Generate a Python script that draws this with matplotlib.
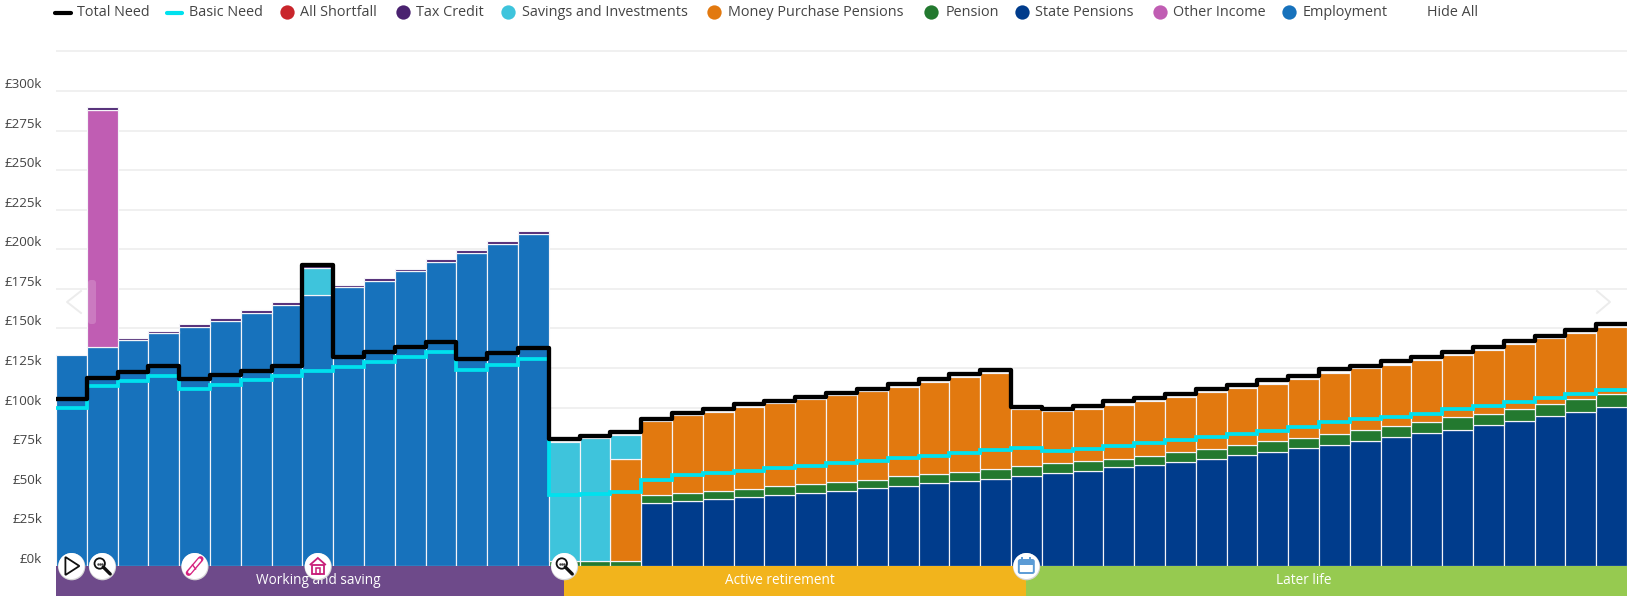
import matplotlib
matplotlib.use("Agg")
import numpy as np
import matplotlib.pyplot as plt
from matplotlib.patches import Rectangle, Circle, Polygon, FancyBboxPatch
from matplotlib.lines import Line2D

plt.rcParams['font.family'] = ['Open Sans', 'DejaVu Sans']

W, H = 1633, 601

employment = [133, 138, 142.5, 147, 151, 155, 160, 165, 171, 176, 180, 186, 192, 197.5, 203.5, 209.5]
other_income = [0, 150]
tax_credit = [0, 1.7, 1.6, 1.6, 1.7, 1.7, 1.7, 1.5, 1.2, 1.7, 1.8, 1.8, 1.8, 1.8, 1.8, 1.8]
savings = [0, 0, 0, 0, 0, 0, 0, 0, 17, 0, 0, 0, 0, 0, 0, 0, 75.3, 77.6, 15.3]
state_pensions = [40, 41, 42.3, 43.8, 44.8, 45.9, 47.2, 49, 50.5, 52.2, 53.5, 55.2, 56.6, 58.5,
                  60.3, 62.3, 64, 65.9, 67.6, 70.3, 72, 74.7, 76.4, 79, 81.2, 83.8, 86.1, 88.9,
                  91.4, 94.6, 97.1, 100.2]
pension = [3, 3, 3, 4.8, 4.9, 4.8, 5, 5.5, 5.6, 6, 5.5, 6.1, 6.1, 6, 6.2, 6.5, 6.5, 6.2,
           5.3, 5.6, 6.1, 6.3, 5.9, 7, 6.1, 6.8, 6.7, 7.2, 7.3, 7.8, 7.3, 8, 7.9, 8.6, 8.5]
money_purchase = [0, 0, 64.4, 46.8, 49.5, 50.4, 51.4, 52.5, 53.8, 54.8, 56.1, 56.7, 58, 59.7, 60.3,
                  36.1, 32.9, 32.9, 34.3, 34.8, 35, 35.8, 36.2, 36.2, 37.1, 39, 39.2, 38.8, 39.2,
                  39.6, 40.5, 40.8, 41.3, 41.5, 42.2]
total_need = [105.5, 119, 122.5, 126, 118, 120.6, 123, 126, 190, 132, 135, 138.3, 141.7, 130.7, 134.5,
              137.6, 80.4, 82.3, 84.4, 92.9, 96.8, 99.4, 102, 104.2, 106.8, 109.5, 112, 115.2, 118,
              121, 123.6, 100.6, 99.4, 101.3, 104, 106.3, 108.8, 111.6, 114.3, 117.3, 119.8, 124.2,
              126.5, 129.3, 132, 135.2, 138.6, 142, 145.5, 149, 152.7]
basic_need = [99.8, 113.5, 116.8, 120, 111.8, 114.5, 117.3, 120, 123, 125.7, 128.7, 131.9, 135, 124,
              127.2, 130.8, 45, 45.3, 46.7, 54.3, 57.3, 58.7, 60, 61.7, 63.4, 64.9, 66.5, 68.2, 69.7,
              71.4, 73, 74.7, 72.8, 74, 76, 77.7, 79.6, 81.4, 83.6, 85.5, 87.6, 91, 92.7, 94.1, 96.2,
              99, 101, 103.7, 106.2, 108.7, 111.4]

tick_values = list(range(0, 325, 25))
tick_labels = [f"£{v}k" for v in tick_values]

phase_names = ["Working and saving", "Active retirement", "Later life"]
phase_starts = [-0.5, 16, 31]
phase_ends = [16, 31, 50.5]
phase_label_x = [8, 23, 40]
event_x = [0, 1, 4, 8, 16, 31]

C_TOTAL = "#000000"
C_BASIC = "#00E1EE"
C_SHORT = "#C9252B"
C_TAX = "#4A2270"
C_SAV = "#3EC4DC"
C_MPP = "#E2790F"
C_PEN = "#23792F"
C_STATE = "#003C8C"
C_OTHER = "#C05DB3"
C_EMP = "#1772BC"
C_TEXT = "#444444"


def padded(values, start=0, n=51):
    out = np.zeros(n)
    out[start:start + len(values)] = values
    return out


n = 51
x = np.arange(n)
layers = [
    (padded(state_pensions, 19), C_STATE),
    (padded(pension, 16), C_PEN),
    (padded(money_purchase, 16), C_MPP),
    (padded(employment), C_EMP),
    (padded(savings), C_SAV),
    (padded(other_income), C_OTHER),
    (padded(tax_credit), C_TAX),
]

fig = plt.figure(figsize=(W / 100, H / 100), dpi=100, facecolor="white")
ax_left, ax_right, ax_top, ax_bottom = 56, 1627, 51.4, 566
ax = fig.add_axes([ax_left / W, 1 - ax_bottom / H, (ax_right - ax_left) / W, (ax_bottom - ax_top) / H])
ax.set_xlim(-0.5, 50.5)
ax.set_ylim(0, 325)
for s in ax.spines.values():
    s.set_visible(False)
ax.set_xticks([])
ax.set_yticks(tick_values)
ax.set_yticklabels(tick_labels, fontsize=9.6, color=C_TEXT)
ax.tick_params(axis="y", length=0, pad=10)
for lbl in ax.get_yticklabels():
    lbl.set_verticalalignment("bottom")
ax.set_axisbelow(True)
ax.yaxis.grid(True, color="#ececec", lw=1.1)
ax.hlines(325, -0.5, 50.5, color="#ececec", lw=1.1, zorder=0, clip_on=False)

# stacked income bars
bottom = np.zeros(n)
for values, colour in layers:
    mask = values > 0
    ax.bar(x[mask], values[mask], width=1.0, bottom=bottom[mask], color=colour,
           edgecolor="#f4f4f8", linewidth=0.85, zorder=2)
    bottom += values

# need lines, stepped over the full width of each bar
edges = np.arange(n + 1) - 0.5
ax.plot(edges, list(basic_need) + [basic_need[-1]], drawstyle="steps-post", color=C_BASIC,
        lw=2.7, zorder=3, solid_joinstyle="miter", solid_capstyle="butt")
ax.plot(edges, list(total_need) + [total_need[-1]], drawstyle="steps-post", color=C_TOTAL,
        lw=3.1, zorder=4, solid_joinstyle="round", solid_capstyle="butt")

# life-phase band under the axis
band_h = 30 / (ax_bottom - ax_top)
for name, a, b, lx, colour in zip(phase_names, phase_starts, phase_ends, phase_label_x,
                                  ["#6E4A8A", "#F2B41C", "#96CA50"]):
    ax.add_patch(Rectangle((a, -band_h), b - a, band_h, transform=ax.get_xaxis_transform(),
                           facecolor=colour, edgecolor="none", clip_on=False, zorder=5))
    ax.text(lx, -band_h / 2, name, transform=ax.get_xaxis_transform(), ha="center", va="center",
            color="white", fontsize=9.8, zorder=6, clip_on=False)

# overlay in pixel coordinates for legend, carousel hints and event badges
ov = fig.add_axes([0, 0, 1, 1], facecolor="none")
ov.set_xlim(0, W)
ov.set_ylim(H, 0)
ov.axis("off")

legend_y = 12.5
k = 1633 / 1568
for lx, tx, colour, label in [
    (53, 74, C_TOTAL, "Total Need"),
    (160, 181, C_BASIC, "Basic Need"),
]:
    ov.add_line(Line2D([lx * k, (lx + 15) * k], [legend_y, legend_y], color=colour, lw=3,
                       solid_capstyle="round"))
    ov.text(tx * k, legend_y, label, va="center", ha="left", fontsize=10.4, color=C_TEXT)
for cx, tx, colour, label in [
    (276, 288, C_SHORT, "All Shortfall"),
    (387, 399, C_TAX, "Tax Credit"),
    (488, 501, C_SAV, "Savings and Investments"),
    (686, 699, C_MPP, "Money Purchase Pensions"),
    (894, 908, C_PEN, "Pension"),
    (981, 994, C_STATE, "State Pensions"),
    (1114, 1126, C_OTHER, "Other Income"),
    (1238, 1251, C_EMP, "Employment"),
]:
    ov.plot([cx * k], [legend_y - 0.5], "o", ms=10.3, color=colour, mec="none")
    ov.text(tx * k, legend_y, label, va="center", ha="left", fontsize=10.4, color=C_TEXT)
ov.text(1370 * k, legend_y, "Hide All", va="center", ha="left", fontsize=10.4, color=C_TEXT)

# carousel arrows and handle
ov.plot([81, 67, 81], [291, 302, 313], color="#ececec", lw=1.4)
ov.plot([1597, 1610, 1597], [291, 302, 313], color="#ececec", lw=1.4)
ov.add_patch(FancyBboxPatch((88, 280), 8, 44, boxstyle="round,pad=0,rounding_size=3",
                            facecolor="white", edgecolor="none", alpha=0.18))


def magnifier(cx, cy):
    ov.add_patch(Circle((cx - 2.5, cy - 2.5), 5.2, facecolor="white", edgecolor="#111111", lw=1.3))
    ov.plot([cx + 1, cx + 8], [cy + 1, cy + 8], color="#111111", lw=2.4, solid_capstyle="round")
    ov.plot([cx - 4.5, cx - 2.5, cx - 0.5], [cy - 2.5] * 3, ".", ms=1.5, color="#444444")


def play(cx, cy):
    ov.add_patch(Polygon([(cx - 6, cy - 9), (cx + 8, cy), (cx - 6, cy + 9)], closed=True,
                         facecolor="white", edgecolor="#111111", lw=1.3))


def diploma(cx, cy):
    ov.plot([cx - 6, cx + 6], [cy + 7, cy - 7], color="#D6237F", lw=4.2, solid_capstyle="round")
    ov.plot([cx - 5, cx + 5], [cy + 6, cy - 6], color="white", lw=2.2, solid_capstyle="round")
    ov.plot([cx - 2, cx + 1], [cy - 1, cy + 3], color="#D6237F", lw=1)


def house(cx, cy):
    ov.add_patch(Polygon([(cx - 8, cy - 1), (cx, cy - 8), (cx + 8, cy - 1)], closed=False,
                         fill=False, edgecolor="#C81E78", lw=1.3))
    ov.add_patch(Rectangle((cx - 6, cy - 1), 12, 9, fill=False, edgecolor="#C81E78", lw=1.3))
    ov.add_patch(Rectangle((cx - 2, cy + 2), 4, 6, fill=False, edgecolor="#C81E78", lw=1.1))


def calendar(cx, cy):
    ov.add_patch(FancyBboxPatch((cx - 7.5, cy - 6), 15, 13, boxstyle="round,pad=0,rounding_size=1.5",
                                facecolor="white", edgecolor="#5B9BD5", lw=1.4))
    ov.add_patch(Rectangle((cx - 7.5, cy - 6), 15, 4.5, facecolor="#5B9BD5", edgecolor="none"))
    ov.plot([cx - 4, cx - 4], [cy - 8.5, cy - 4], color="#5B9BD5", lw=1.4)
    ov.plot([cx + 4, cx + 4], [cy - 8.5, cy - 4], color="#5B9BD5", lw=1.4)


glyphs = [play, magnifier, diploma, house, magnifier, calendar]
fig.canvas.draw()
for ex, glyph in zip(event_x, glyphs):
    px, py = ax.transData.transform((ex, 0))
    cx, cy = px, H - py
    ov.add_patch(Circle((cx + 0.3, cy + 0.7), 13.6, facecolor="#d6d6d6", edgecolor="none"))
    ov.add_patch(Circle((cx, cy), 13, facecolor="white", edgecolor="none"))
    glyph(cx, cy)

fig.savefig("out.png", dpi=100)
